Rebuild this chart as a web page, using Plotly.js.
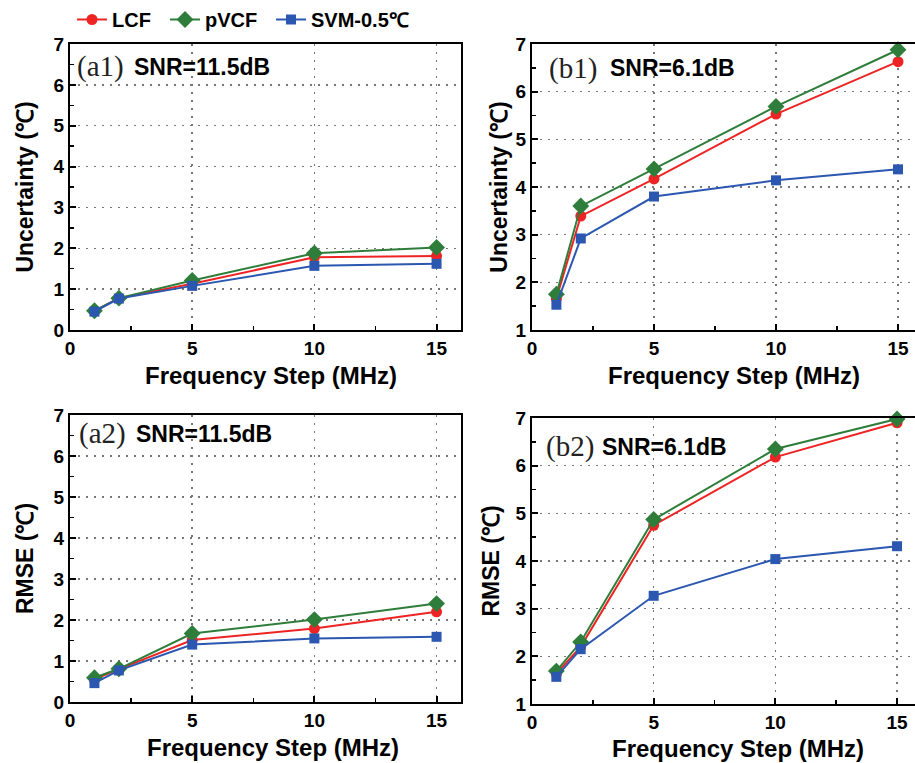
<!DOCTYPE html>
<html>
<head>
<meta charset="utf-8">
<script src="https://cdn.plot.ly/plotly-3.0.1.min.js"></script>
<style>html,body{margin:0;padding:0;background:#fff;}#chart{width:915px;height:763px;}</style>
</head>
<body>
<div id="chart"></div>
<script>
// Frequency steps (MHz)
const freqStep = [1, 2, 5, 10, 15];
const seriesNames = ['LCF', 'pVCF', 'SVM-0.5\u2103'];

// (a1) Uncertainty, SNR = 11.5 dB
const a1_LCF  = [0.47, 0.78, 1.13, 1.78, 1.81];
const a1_pVCF = [0.47, 0.78, 1.21, 1.88, 2.02];
const a1_SVM  = [0.45, 0.77, 1.08, 1.57, 1.62];

// (b1) Uncertainty, SNR = 6.1 dB
const b1_LCF  = [1.66, 3.39, 4.17, 5.53, 6.63];
const b1_pVCF = [1.75, 3.60, 4.38, 5.69, 6.88];
const b1_SVM  = [1.53, 2.92, 3.80, 4.14, 4.37];

// (a2) RMSE, SNR = 11.5 dB
const a2_LCF  = [0.55, 0.80, 1.51, 1.79, 2.20];
const a2_pVCF = [0.59, 0.81, 1.67, 2.01, 2.40];
const a2_SVM  = [0.46, 0.77, 1.40, 1.55, 1.59];

// (b2) RMSE, SNR = 6.1 dB
const b2_LCF  = [1.64, 2.20, 4.75, 6.18, 6.90];
const b2_pVCF = [1.69, 2.30, 4.87, 6.35, 6.98];
const b2_SVM  = [1.57, 2.15, 3.27, 4.04, 4.31];

const xTickVals = [0, 5, 10, 15];
const panelLabels = ['(a1)', '(b1)', '(a2)', '(b2)'];
const snrLabels = ['SNR=11.5dB', 'SNR=6.1dB', 'SNR=11.5dB', 'SNR=6.1dB'];
const xTitle = 'Frequency Step (MHz)';
const yTitles = ['Uncertainty (\u2103)', 'Uncertainty (\u2103)', 'RMSE (\u2103)', 'RMSE (\u2103)'];

const colors = ['#ee2424', '#2f7d3b', '#2b57b0'];
const symbols = ['circle', 'diamond', 'square'];
const msizes = [11, 13, 10];
const legendIds = ['legend', 'legend2', 'legend3'];
const legendX = [72, 165, 271];

const panels = [
  {xa: 'x',  ya: 'y',  data: [a1_LCF, a1_pVCF, a1_SVM]},
  {xa: 'x2', ya: 'y2', data: [b1_LCF, b1_pVCF, b1_SVM]},
  {xa: 'x3', ya: 'y3', data: [a2_LCF, a2_pVCF, a2_SVM]},
  {xa: 'x4', ya: 'y4', data: [b2_LCF, b2_pVCF, b2_SVM]}
];

const traces = [];
panels.forEach((p, pi) => {
  p.data.forEach((vals, si) => {
    const t = {
      x: freqStep, y: vals, xaxis: p.xa, yaxis: p.ya,
      type: 'scatter', mode: 'lines+markers',
      name: seriesNames[si], showlegend: pi === 0,
      line: {color: colors[si], width: 2},
      marker: {color: colors[si], symbol: symbols[si], size: msizes[si]},
      cliponaxis: false
    };
    t.legend = legendIds[si];
    traces.push(t);
  });
});

const W = 915, H = 763;
const fx = v => v / W;
const fy = v => 1 - v / H;

const sans = 'Liberation Sans, Arial, sans-serif';
const tickFont = {family: sans, size: 19, color: '#000', weight: 700};
const xTitleFont = {family: sans, size: 24, color: '#000', weight: 700};
const yTitleFont = {family: sans, size: 23, color: '#000', weight: 700};

function xaxis(domain, anchor) {
  return {
    domain: domain, anchor: anchor, range: [0, 16],
    tickvals: xTickVals, ticks: 'inside', ticklen: 6, tickwidth: 2, tickcolor: '#000',
    minor: {dtick: 2.5, tick0: 0, ticks: 'inside', ticklen: 4, tickwidth: 1.5, tickcolor: '#000', showgrid: false},
    showline: true, linecolor: '#000', linewidth: 2, mirror: true,
    showgrid: true, gridcolor: '#777', gridwidth: 1.5, griddash: '2px,6px',
    zeroline: false, tickfont: tickFont
  };
}
function yaxis(domain, anchor, range, title, standoff) {
  return {
    domain: domain, anchor: anchor, range: range, dtick: 1,
    ticks: 'inside', ticklen: 6, tickwidth: 2, tickcolor: '#000',
    minor: {dtick: 0.5, ticks: 'inside', ticklen: 4, tickwidth: 1.5, tickcolor: '#000', showgrid: false},
    showline: true, linecolor: '#000', linewidth: 2, mirror: true,
    showgrid: true, gridcolor: '#777', gridwidth: 1.5, griddash: '2px,6px',
    zeroline: false, tickfont: tickFont,
    title: {text: title, font: yTitleFont, standoff: standoff}
  };
}

const dA = [fx(70), fx(461)];
const dB = [fx(532), 1];
const dTop = [fy(330), fy(44)];
const dBotA = [fy(702), fy(415)];
const dBotB = [fy(704), fy(418)];

const annPos = [
  {xr: 'x domain',  yr: 'y domain',  lx: 0.012, sx: 0.158, y: 0.92},
  {xr: 'x2 domain', yr: 'y2 domain', lx: 0.038, sx: 0.198, y: 0.915},
  {xr: 'x3 domain', yr: 'y3 domain', lx: 0.018, sx: 0.163, y: 0.935},
  {xr: 'x4 domain', yr: 'y4 domain', lx: 0.032, sx: 0.178, y: 0.90}
];
const xTitlePos = [[271, 375], [734, 375], [273, 747], [738, 748]];
const annotations = [];
annPos.forEach((a, i) => {
  annotations.push({xref: a.xr, yref: a.yr, x: a.lx, y: a.y, xanchor: 'left', yanchor: 'middle',
    text: panelLabels[i], showarrow: false,
    font: {family: 'Liberation Serif, Times New Roman, serif', size: 29, color: '#222'}});
  annotations.push({xref: a.xr, yref: a.yr, x: a.sx, y: a.y, xanchor: 'left', yanchor: 'middle',
    text: snrLabels[i], showarrow: false,
    font: {family: sans, size: 23, color: '#000', weight: 700}});
  annotations.push({xref: 'paper', yref: 'paper', x: fx(xTitlePos[i][0]), y: fy(xTitlePos[i][1]),
    xanchor: 'center', yanchor: 'middle', text: xTitle, showarrow: false, font: xTitleFont});
});

const layout = {
  width: W, height: H,
  margin: {l: 0, r: 0, t: 0, b: 0},
  paper_bgcolor: '#fff', plot_bgcolor: '#fff',
  showlegend: true,
  xaxis: xaxis(dA, 'y'),
  yaxis: yaxis(dTop, 'x', [0, 7], yTitles[0], 14),
  xaxis2: xaxis(dB, 'y2'),
  yaxis2: yaxis(dTop, 'x2', [1, 7], yTitles[1], 2),
  xaxis3: xaxis(dA, 'y3'),
  yaxis3: yaxis(dBotA, 'x3', [0, 7], yTitles[2], 14),
  xaxis4: xaxis(dB, 'y4'),
  yaxis4: yaxis(dBotB, 'x4', [1, 7], yTitles[3], 10),
  annotations: annotations
};
legendIds.forEach((id, i) => {
  layout[id] = {visible: true, orientation: 'h', x: fx(legendX[i]), y: 1, xanchor: 'left', yanchor: 'top',
    xref: 'paper', yref: 'paper',
    font: {family: sans, size: 20, color: '#000', weight: 700},
    itemwidth: 30, bgcolor: 'rgba(0,0,0,0)'};
});
layout.xaxis2.range = [0, (915 - 532) / 24.4];
layout.xaxis4.range = [0, (915 - 531) / 24.4];

Plotly.newPlot('chart', traces, layout, {displayModeBar: false, staticPlot: true});
</script>
</body>
</html>
